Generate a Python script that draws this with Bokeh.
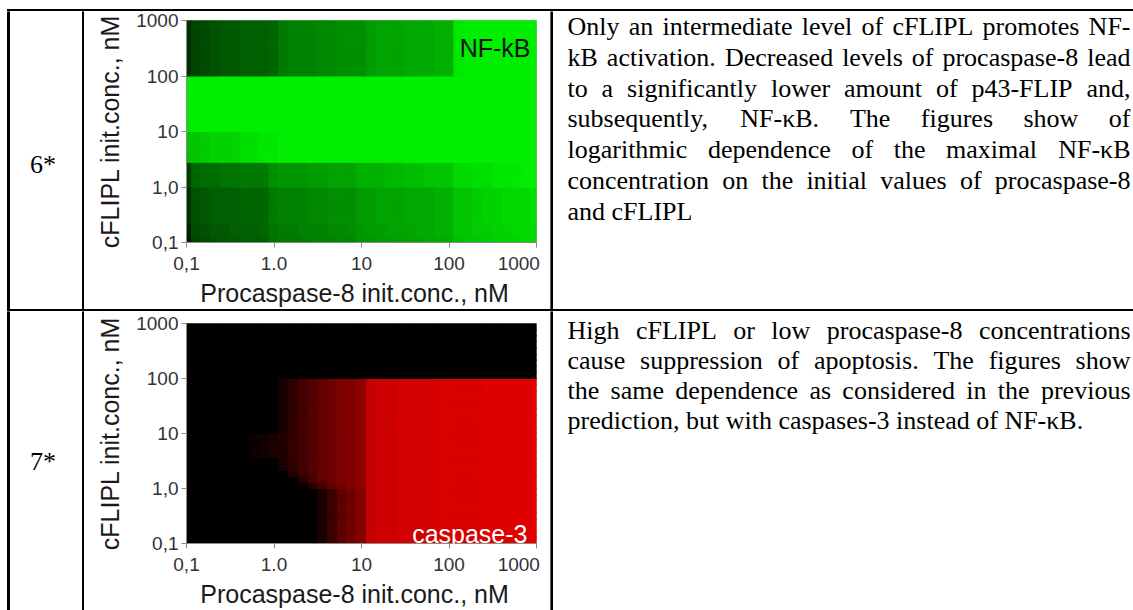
import numpy as np
from bokeh.plotting import figure
from bokeh.layouts import column, row
from bokeh.models import Range1d, FixedTicker, Div, Spacer, ColumnDataSource, Label
from bokeh.core.properties import value
from bokeh.embed import file_html
from bokeh.resources import INLINE

# ---------------- data ----------------
# parameter scan: procaspase-8 (x) sample points, cFLIPL (y) row edges, nM
procasp8_nM = np.logspace(-1, 3, 37)       # 9 points per decade, one cell centred on each
cflipl_edges_nM = np.logspace(-1, 3, 37)   # 36 rows, 9 per decade

x_ticks = [0.1, 1, 10, 100, 1000]
x_tick_labels = ["0,1", "1.0", "10", "100", "1000"]
y_ticks = [0.1, 1, 10, 100, 1000]
y_tick_labels = ["0,1", "1,0", "10", "100", "1000"]
x_title = "Procaspase-8 init.conc., nM"
y_title = "cFLIPL init.conc., nM"

# intensity level per cell (0..35 coded 0-9a-z), rows listed from cFLIPL=1000 (top) down to 0.1
LEVELS = "0123456789abcdefghijklmnopqrstuvwxyz"
nfkb_rows = [
    "7ab cddeeef ijjjkklll nooopppqq yzzzzzzzz",
    "7ab cddeeef ijjjkklll nooopppqq yzzzzzzzz",
    "7ab cddeeef ijjjkklll nooopppqq yzzzzzzzz",
    "7ab cddeeef ijjjkklll nooopppqq yzzzzzzzz",
    "7ab cddeeef ijjjkklll nooopppqq yzzzzzzzz",
    "7ab cddeeef ijjjkklll nooopppqq yzzzzzzzz",
    "7ab cddeeef ijjjkklll nooopppqq yzzzzzzzz",
    "7ab cddeeef ijjjkklll nooopppqq yzzzzzzzz",
    "7ab cddeeef ijjjkklll nooopppqq yzzzzzzzz",
    "zzz zzzzzzz zzzzzzzzz zzzzzzzzz zzzzzzzzz",
    "zzz zzzzzzz zzzzzzzzz zzzzzzzzz zzzzzzzzz",
    "zzz zzzzzzz zzzzzzzzz zzzzzzzzz zzzzzzzzz",
    "zzz zzzzzzz zzzzzzzzz zzzzzzzzz zzzzzzzzz",
    "zzz zzzzzzz zzzzzzzzz zzzzzzzzz zzzzzzzzz",
    "zzz zzzzzzz zzzzzzzzz zzzzzzzzz zzzzzzzzz",
    "zzz zzzzzzz zzzzzzzzz zzzzzzzzz zzzzzzzzz",
    "yzz zzzzzzz zzzzzzzzz zzzzzzzzz zzzzzzzzz",
    "yzz zzzzzzz zzzzzzzzz zzzzzzzzz zzzzzzzzz",
    "ttu vvvxxyy zzzzzzzzz zzzzzzzzz zzzzzzzzz",
    "ttu vvvxxyy zzzzzzzzz zzzzzzzzz zzzzzzzzz",
    "ttu vvvxxyy zzzzzzzzz zzzzzzzzz zzzzzzzzz",
    "ttu vvvxxyy zzzzzzzzz zzzzzzzzz zzzzzzzzz",
    "stu vvvxxyy zzzzzzzzz zzzzzzzzz zzzzzzzzz",
    "9fg ghhiiil mmmnnoooq qqrrssttt wwxxyyyzz",
    "9fg ghhiiil mmmnnoooq qqrrssttt wwxxyyyzz",
    "9fg ghhiiil mmmnnoooq qqrrssttt wwxxyyyzz",
    "9fg ghhiiil mmmnnoooq qqrrssttt wwxxyyyzz",
    "7cd eeefffi jjjkkllln nooopppqq ttuvvwwwx",
    "7cd eeefffi jjjkkllln nooopppqq ttuvvwwwx",
    "7cd eeefffi jjjkkllln nooopppqq ttuvvwwwx",
    "7cd eeefffi jjjkkllln nooopppqq ttuvvwwwx",
    "7cd eeefffi jjjkkllln nooopppqq ttuvvwwwx",
    "7cd eeefffi jjjkkllln nooopppqq ttuvvwwwx",
    "5bc ddeeefh iijjjkklm nnoooppqq ttuuvvwww",
    "5bc ddeeefh iijjjkklm nnoooppqq ttuuvvwww",
    "4ab cddeeeh iiijjjkkm mnnoooppp sttuvvvww",
]
casp3_rows = [
    "000 0000000 000000000 000000000 000000000",
    "000 0000000 000000000 000000000 000000000",
    "000 0000000 000000000 000000000 000000000",
    "000 0000000 000000000 000000000 000000000",
    "000 0000000 000000000 000000000 000000000",
    "000 0000000 000000000 000000000 000000000",
    "000 0000000 000000000 000000000 000000000",
    "000 0000000 000000000 000000000 000000000",
    "000 0000000 000000000 000000000 000000000",
    "000 0000000 47adfhjkm uvvwwwwxx xxxyyyyyz",
    "000 0000000 47adfhjkm uvvwwwwxx xxxyyyyyz",
    "000 0000000 47adfhjkm uvvwwwwxx xxxyyyyyz",
    "000 0000000 47adfhjkm uvvwwwwxx xxxyyyyyz",
    "000 0000000 47adfhjkm uvvwwwwxx xxxyyyyyz",
    "000 0000000 47adfhjkm uvvwwwwxx xxxyyyyyz",
    "000 0000000 47adfhjkm uvvwwwwxx xxxyyyyyz",
    "000 0000000 47adfhjkm uvvwwwwxx xxxyyyyyz",
    "000 0000000 47adfhjkm uvvwwwwxx xxxyyyyyz",
    "000 0000234 58adfhjkm uvvwwwwxx xxxyyyyyz",
    "000 0000234 58adfhjkm uvvwwwwxx xxxyyyyyz",
    "000 0000234 58adfhjkm uvvwwwwxx xxxyyyyyz",
    "000 0000234 58adfhjkm uvvwwwwxx xxxyyyyyz",
    "000 0000000 47adfhjkm uvvwwwwxx xxxyyyyyz",
    "000 0000000 47adfhjkm uvvwwwwxx xxxyyyyyz",
    "000 0000000 059cfhjkm uvvwwwwxx xxxyyyyyz",
    "000 0000000 006behjkm uvvwwwwxx xxxyyyyyz",
    "000 0000000 0006bfikm uvvwwwwxx xxxyyyyyz",
    "000 0000000 000049ehk uvvwwwwxx xxxyyyyyz",
    "000 0000000 000049ehk uvvwwwwxx xxxyyyyyz",
    "000 0000000 000049ehk uvvwwwwxx xxxyyyyyz",
    "000 0000000 000049ehk uvvwwwwxx xxxyyyyyz",
    "000 0000000 000049ehk uvvwwwwxx xxxyyyyyz",
    "000 0000000 000049ehk uvvwwwwxx xxxyyyyyz",
    "000 0000000 000049ehk uvvwwwwxx xxxyyyyyz",
    "000 0000000 000049ehk uvvwwwwxx xxxyyyyyz",
    "000 0000000 000049ehk uvvwwwwxx xxxyyyyyz",
]

row_ids = ["6*", "7*"]
descriptions = [
    ["Only an intermediate level of cFLIPL promotes NF-",
     "kB activation. Decreased levels of procaspase-8 lead",
     "to a significantly lower amount of p43-FLIP and,",
     "subsequently, NF-\u03baB. The figures show of",
     "logarithmic dependence of the maximal NF-\u03baB",
     "concentration on the initial values of procaspase-8",
     "and cFLIPL"],
    ["High cFLIPL or low procaspase-8 concentrations",
     "cause suppression of apoptosis. The figures show",
     "the same dependence as considered in the previous",
     "prediction, but with caspases-3 instead of NF-\u03baB."],
]
panel_names = ["NF-kB", "caspase-3"]

# ---------------- helpers ----------------
NBSP = "\u00a0"

def green(lv):
    return "#%02x%02x%02x" % (0, round(238 * lv / 35), 0)

def red(lv):
    return "#%02x%02x%02x" % (round(230 * lv / 35), 0, 0)

def cell_source(rows_top_down, colour):
    rows = [r.replace(" ", "") for r in rows_top_down][::-1]
    assert len(rows) == len(cflipl_edges_nM) - 1
    half = 10 ** (1 / 18)
    d = dict(left=[], right=[], bottom=[], top=[], color=[])
    for i, r in enumerate(rows):
        assert len(r) == len(procasp8_nM), (i, r)
        for j, ch in enumerate(r):
            d["left"].append(procasp8_nM[j] / half)
            d["right"].append(procasp8_nM[j] * half)
            d["bottom"].append(cflipl_edges_nM[i])
            d["top"].append(cflipl_edges_nM[i + 1])
            d["color"].append(colour(LEVELS.index(ch)))
    return ColumnDataSource(d)

def heat_fig(height, top_b, bot_b, rows, colour, name, name_xy, name_color):
    p = figure(width=466, height=height, x_axis_type="log", y_axis_type="log",
               x_range=Range1d(0.1, 1000), y_range=Range1d(0.1, 1000),
               min_border_left=102, min_border_right=14,
               min_border_top=top_b, min_border_bottom=bot_b,
               toolbar_location=None, output_backend="svg",
               outline_line_color="#a8a8a8", border_fill_color="white")
    p.grid.visible = False
    p.quad(left="left", right="right", bottom="bottom", top="top",
           fill_color="color", line_color="color", line_width=1,
           source=cell_source(rows, colour))
    # the last x label is pushed a little left of its tick, as in the original
    x_labels_shown = x_tick_labels[:-1] + [x_tick_labels[-1] + NBSP * 2]
    for ax, ticks, labels in ((p.xaxis[0], x_ticks, x_labels_shown),
                              (p.yaxis[0], y_ticks, y_tick_labels)):
        ax.ticker = FixedTicker(ticks=ticks, minor_ticks=[])
        ax.major_label_overrides = {t: l for t, l in zip(ticks, labels)}
        ax.axis_line_color = "#8a8a8a"
        ax.major_tick_line_color = "#8a8a8a"
        ax.major_tick_out = 5
        ax.major_tick_in = 0
        ax.minor_tick_line_color = None
        ax.major_label_text_font = "Liberation Sans"
        ax.major_label_text_font_size = "19px"
        ax.major_label_text_color = "#333333"
        ax.axis_label_text_font = "Liberation Sans"
        ax.axis_label_text_font_size = "25px"
        ax.axis_label_text_font_style = "normal"
        ax.axis_label_text_color = "#1a1a1a"
    p.xaxis.axis_label = x_title + NBSP * 2
    p.yaxis.axis_label = y_title
    p.xaxis.major_label_standoff = 5
    p.yaxis.major_label_standoff = 3
    p.xaxis.axis_label_standoff = 2
    p.yaxis.axis_label_standoff = 9
    p.add_layout(Label(x=name_xy[0], y=name_xy[1], text=name, text_align="right",
                       text_baseline="alphabetic", text_font="Liberation Sans",
                       text_font_size="25px", text_color=name_color))
    return p

def page_fig(x0, x1, y_top, y_bot):
    f = figure(width=x1 - x0, height=y_bot - y_top,
               x_range=Range1d(x0, x1), y_range=Range1d(y_bot, y_top),
               min_border=0, toolbar_location=None, output_backend="svg",
               x_axis_location=None, y_axis_location=None,
               outline_line_color=None)
    f.grid.visible = False
    return f

# Times New Roman advance widths (per 1000 em) for justification
TNR = {" ": 250, ",": 250, ".": 250, "-": 333, "\u03ba": 520,
       "B": 667, "D": 722, "F": 556, "H": 722, "I": 333, "L": 611, "N": 722,
       "O": 722, "P": 556, "T": 611}
TNR.update({c: 500 for c in "0123456789"})
TNR.update(dict(zip("abcdefghijklmnopqrstuvwxyz",
                    [444, 500, 444, 500, 444, 333, 500, 500, 278, 278, 500, 278, 778,
                     500, 500, 500, 500, 333, 389, 278, 500, 500, 722, 500, 500, 444])))
FS = 26
COMMON = dict(text_font=value("Liberation Serif"), text_font_size="26px",
              text_color="black", text_baseline="alphabetic")

def tw(s):
    return sum(TNR.get(c, 500) for c in s) / 1000 * FS

def text_fig(y_top, y_bot, lines, base0, dy):
    f = page_fig(550, 1133, y_top, y_bot)
    f.quad(left=[550], right=[552], top=[y_top], bottom=[y_bot], color="black")
    x0, x1 = 567, 1130
    lx, ly, lt, rx, ry, rt = [], [], [], [], [], []
    for i, line in enumerate(lines):
        ws = line.split(" ")
        y = base0 + i * dy
        last = i == len(lines) - 1
        widths = [tw(w) for w in ws]
        gap = tw(" ") if (last or len(ws) < 2) else (x1 - x0 - sum(widths)) / (len(ws) - 1)
        x = x0
        for k, (w, wd) in enumerate(zip(ws, widths)):
            if not last and k == len(ws) - 1 and len(ws) > 1:
                rx.append(x1); ry.append(y); rt.append(w)
            else:
                lx.append(x); ly.append(y); lt.append(w)
            x += wd + gap
    f.text(x=lx, y=ly, text=lt, text_align="left", **COMMON)
    if rx:
        f.text(x=rx, y=ry, text=rt, text_align="right", **COMMON)
    return f

def label_fig(y_top, y_bot, rid, rid_base):
    g = page_fig(0, 84, y_top, y_bot)
    g.quad(left=[7, 82], right=[9, 84], top=[y_top, y_top], bottom=[y_bot, y_bot], color="black")
    g.text(x=[42.5], y=[rid_base], text=[rid], text_align="center", **COMMON)
    return g

def hseg(x0, x1):
    # horizontal table rule segment (black strip)
    return Div(text="", width=x1 - x0, height=2, margin=0,
               styles={"background-color": "#000000"})

# ---------------- build ----------------
heat1 = heat_fig(298, 9, 66, nfkb_rows, green, panel_names[0], (853, 315), "#111111")
heat2 = heat_fig(299, 12, 65, casp3_rows, red, panel_names[1], (789, 0.151), "white")
lab1 = label_fig(11, 309, row_ids[0], 164)
lab2 = label_fig(311, 610, row_ids[1], 461)
txt1 = text_fig(11, 309, descriptions[0], 26.0, 30.8)
txt2 = text_fig(311, 610, descriptions[1], 329.5, 30.0)

col_a = column(Spacer(width=84, height=9, margin=0),
               row(Spacer(width=7, height=2, margin=0), hseg(7, 84), spacing=0),
               lab1,
               row(Spacer(width=7, height=2, margin=0), hseg(7, 84), spacing=0),
               lab2, spacing=0)
col_b = column(Spacer(width=466, height=9, margin=0), hseg(84, 550), heat1,
               hseg(84, 550), heat2, spacing=0)
col_c = column(Spacer(width=583, height=9, margin=0), hseg(550, 1133), txt1,
               hseg(550, 1133), txt2, spacing=0)

layout = row(col_a, col_b, col_c, spacing=0)

open("out.html", "w").write(file_html(layout, INLINE))
